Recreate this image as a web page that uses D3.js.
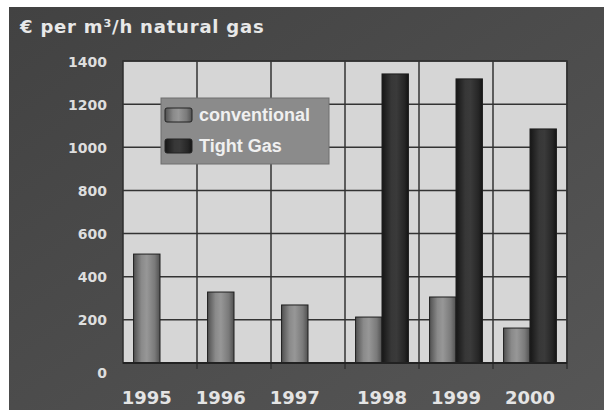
<!DOCTYPE html>
<html>
<head>
<meta charset="utf-8">
<script src="https://cdn.jsdelivr.net/npm/d3@7"></script>
<style>
  body { margin: 0; background: #fff; }
  svg { display: block; }
</style>
</head>
<body>
<div id="chart"></div>
<script>
// chart values
var years = ["1995", "1996", "1997", "1998", "1999", "2000"];
var seriesNames = ["conventional", "Tight Gas"];
var conventional = [505, 329, 269, 213, 306, 162];
var tightGas = [null, null, null, 1340, 1317, 1085];
var yTicks = [0, 200, 400, 600, 800, 1000, 1200, 1400];

var svgWidth = 604;
var svgHeight = 410;

var plot = { left: 123, right: 567, top: 61, bottom: 363 };

var svg = d3.select("#chart")
  .append("svg")
  .attr("width", svgWidth)
  .attr("height", svgHeight);

var defs = svg.append("defs");

// background gradient
var bg = defs.append("linearGradient").attr("id", "bg")
  .attr("x1", "0").attr("y1", "0").attr("x2", "1").attr("y2", "1");
bg.append("stop").attr("offset", "0%").attr("stop-color", "#424242");
bg.append("stop").attr("offset", "100%").attr("stop-color", "#565656");

// cylinder-ish gradients for the bars
function cyl(id, stops) {
  var g = defs.append("linearGradient").attr("id", id)
    .attr("x1", "0").attr("y1", "0").attr("x2", "1").attr("y2", "0");
  stops.forEach(function(s) {
    g.append("stop").attr("offset", s[0]).attr("stop-color", s[1]);
  });
}
cyl("conv", [["0%", "#505050"], ["30%", "#8a8a8a"], ["50%", "#979797"], ["80%", "#7a7a7a"], ["100%", "#505050"]]);
cyl("tight", [["0%", "#161616"], ["35%", "#373737"], ["55%", "#3a3a3a"], ["85%", "#262626"], ["100%", "#141414"]]);

svg.append("rect")
  .attr("x", 9).attr("y", 7)
  .attr("width", svgWidth - 9).attr("height", svgHeight - 7)
  .attr("fill", "url(#bg)");

// title
svg.append("text")
  .attr("x", 20).attr("y", 33)
  .attr("fill", "#e8e8e8")
  .style("font-family", "DejaVu Sans, Verdana, sans-serif")
  .style("font-weight", "bold")
  .style("font-size", "18px")
  .style("letter-spacing", "0.8px")
  .text("€ per m³/h natural gas");

// scales
var x0 = d3.scaleBand().domain(years).range([plot.left, plot.right]).padding(0);
var x1 = d3.scaleBand().domain(seriesNames).range([0, x0.bandwidth()])
  .paddingInner(0).paddingOuter(0.4);
var y = d3.scaleLinear().domain([0, 1400]).range([plot.bottom, plot.top]);

var seriesData = [conventional, tightGas];
var fills = ["url(#conv)", "url(#tight)"];

// plot area
svg.append("rect")
  .attr("x", plot.left).attr("y", plot.top)
  .attr("width", plot.right - plot.left).attr("height", plot.bottom - plot.top)
  .attr("fill", "#d6d6d6")
  .attr("stroke", "#2e2e2e").attr("stroke-width", 1.5);

// grid lines
svg.append("g").selectAll("line").data(yTicks).enter().append("line")
  .attr("x1", plot.left).attr("x2", plot.right)
  .attr("y1", function(d) { return y(d); })
  .attr("y2", function(d) { return y(d); })
  .attr("stroke", "#333").attr("stroke-width", 1.5);

svg.append("g").selectAll("line").data(years.slice(1).concat(["end"])).enter().append("line")
  .attr("x1", function(d) { return d == "end" ? plot.right : x0(d); })
  .attr("x2", function(d) { return d == "end" ? plot.right : x0(d); })
  .attr("y1", plot.top).attr("y2", plot.bottom + 6)
  .attr("stroke", "#333").attr("stroke-width", 1.5);

// bars
seriesNames.forEach(function(name, si) {
  svg.append("g").selectAll("rect")
    .data(years.map(function(yr, i) { return { year: yr, v: seriesData[si][i] }; })
      .filter(function(d) { return d.v != null; }))
    .enter().append("rect")
    .attr("x", function(d) { return x0(d.year) + x1(name); })
    .attr("y", function(d) { return y(d.v); })
    .attr("width", x1.bandwidth())
    .attr("height", function(d) { return y(0) - y(d.v); })
    .attr("fill", fills[si])
    .attr("stroke", "#1e1e1e").attr("stroke-width", 1);
});

// zero line
svg.append("line")
  .attr("x1", plot.left).attr("x2", plot.right)
  .attr("y1", y(0)).attr("y2", y(0))
  .attr("stroke", "#222").attr("stroke-width", 2);

// y axis labels
var leftAxis = d3.axisLeft(y).tickValues(yTicks).tickSize(0).tickPadding(0)
  .tickFormat(d3.format("d"));
var yAxis = svg.append("g")
  .attr("transform", "translate(107,0)")
  .call(leftAxis);
yAxis.select(".domain").remove();
yAxis.selectAll("text")
  .attr("fill", "#dedede")
  .attr("dy", function(d) { return d == 0 ? "1.0em" : "0.36em"; })
  .style("font-family", "DejaVu Sans, Verdana, sans-serif")
  .style("font-weight", "bold")
  .style("font-size", "14px");

// year labels, centred under the bars that exist
svg.append("g").selectAll("text").data(years).enter().append("text")
  .attr("x", function(yr, i) {
    var xs = [];
    seriesNames.forEach(function(name, si) {
      if (seriesData[si][i] != null) xs.push(x0(yr) + x1(name) + x1.bandwidth() / 2);
    });
    return d3.mean(xs);
  })
  .attr("y", 404)
  .attr("text-anchor", "middle")
  .attr("fill", "#e4e4e4")
  .style("font-family", "DejaVu Sans, Verdana, sans-serif")
  .style("font-weight", "bold")
  .style("font-size", "18px")
  .text(function(d) { return d; });

// legend
var legend = svg.append("g").attr("transform", "translate(161,98)");
legend.append("rect")
  .attr("width", 168).attr("height", 66)
  .attr("fill", "#8b8b8b")
  .attr("stroke", "#6e6e6e").attr("stroke-width", 1);
seriesNames.forEach(function(name, si) {
  legend.append("rect")
    .attr("x", 4).attr("y", 10 + si * 31)
    .attr("width", 27).attr("height", 14)
    .attr("rx", 2)
    .attr("fill", fills[si])
    .attr("stroke", "#222").attr("stroke-width", 1);
  legend.append("text")
    .attr("x", 38).attr("y", 23 + si * 31)
    .attr("fill", "#f0f0f0")
    .style("font-family", "Liberation Sans, Arial, sans-serif")
    .style("font-weight", "bold")
    .style("font-size", "18px")
    .text(name);
});
</script>
</body>
</html>
